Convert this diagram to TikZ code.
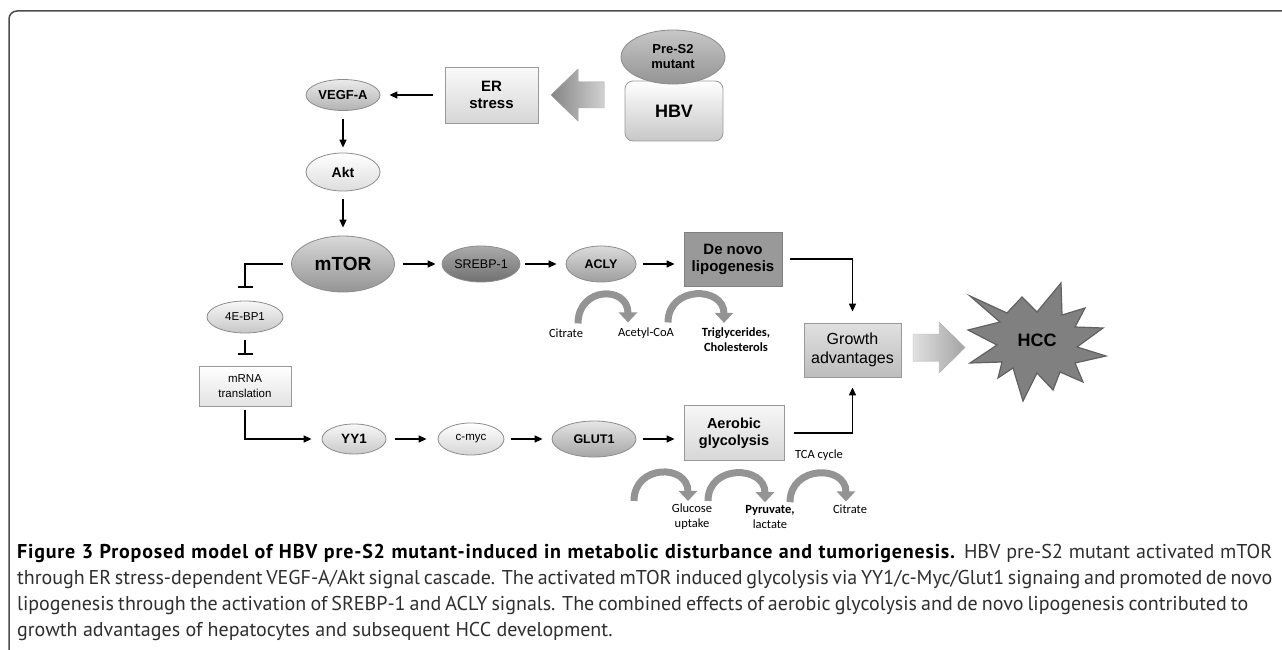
\documentclass[tikz,border=0pt]{standalone}
\usepackage{fontspec}
\setmainfont{Liberation Sans}
\newfontfamily\capfont{PT Sans}
\newfontfamily\metfont{Carlito}
\usetikzlibrary{shapes.geometric, arrows.meta, calc}

\tikzset{oval/.style = {shape = ellipse,
                        draw = black!45,
                        line width = 0.8pt,
                        inner sep = 0pt,
                        align = center,
                        font = \bfseries\fontsize{13}{15}\selectfont},
         sbox/.style = {shape = rectangle,
                        draw = black!40,
                        line width = 0.8pt,
                        inner sep = 0pt,
                        align = center,
                        font = \bfseries\fontsize{15}{17}\selectfont},
         arr/.style = {-{Triangle[length = 8pt, width = 7pt]},
                       line width = 1.4pt},
         inh/.style = {-{Bar[width = 15pt]},
                       line width = 1.2pt},
         met/.style = {font = \metfont\fontsize{12.5}{15}\selectfont,
                       align = center,
                       inner sep = 0pt},
         metarc/.style = {line width = 7pt,
                          draw = black!42,
                          -{Triangle[length = 10pt, width = 18pt]}}}

\begin{document}
\begin{tikzpicture}[x = 1pt, y = -1pt]
	\useasboundingbox (0,0) rectangle (1282,650);
	% frame
	\draw[line width = 1.5pt, black!70, rounded corners = 8pt] (9,650) -- (9,11) -- (1282,11);

	% HBV and ER stress
	\node[sbox, rounded corners = 8pt, minimum width = 98pt, minimum height = 60pt,
	      top color = white, bottom color = black!22,
	      font = \bfseries\fontsize{18}{20}\selectfont] (hbv) at (674,111) {HBV};
	\node[oval, minimum width = 104pt, minimum height = 54pt,
	      top color = black!22, bottom color = black!42] (pres2) at (673,57) {Pre-S2\\mutant};
	\fill[left color = black!48, right color = black!18, draw = black!30]
		(551,95) -- (578,69) -- (578,82) -- (604,82) -- (604,108) -- (578,108) -- (578,121) -- cycle;
	\node[sbox, minimum width = 93pt, minimum height = 56pt,
	      top color = black!2, bottom color = black!16] (er) at (491.5,95) {ER\\stress};

	% upstream cascade
	\node[oval, minimum width = 74pt, minimum height = 31pt,
	      top color = black!8, bottom color = black!30] (vegf) at (343,95) {VEGF-A};
	\node[oval, minimum width = 74pt, minimum height = 38pt,
	      top color = white, bottom color = black!13,
	      font = \bfseries\fontsize{14}{16}\selectfont] (akt) at (343,172) {Akt};
	\node[oval, minimum width = 103pt, minimum height = 56pt,
	      top color = black!15, bottom color = black!42,
	      font = \bfseries\fontsize{19}{21}\selectfont] (mtor) at (343,264) {mTOR};

	% lipogenesis branch
	\node[oval, minimum width = 78pt, minimum height = 36pt,
	      top color = black!33, bottom color = black!56,
	      font = \fontsize{12.5}{14}\selectfont] (srebp) at (481,264) {SREBP-1};
	\node[oval, minimum width = 70pt, minimum height = 36pt,
	      top color = black!14, bottom color = black!38,
	      font = \bfseries\fontsize{12.5}{14}\selectfont] (acly) at (601,264) {ACLY};
	\node[sbox, minimum width = 98pt, minimum height = 54pt,
	      fill = black!40, draw = black!50] (denovo) at (733,259) {De novo\\lipogenesis};

	% translation branch
	\node[oval, minimum width = 76pt, minimum height = 32pt,
	      top color = black!3, bottom color = black!22,
	      font = \fontsize{11.5}{13}\selectfont] (ebp) at (245,317) {4E-BP1};
	\node[sbox, minimum width = 92pt, minimum height = 40pt,
	      top color = white, bottom color = black!11,
	      font = \fontsize{11.5}{15}\selectfont] (mrna) at (245,386) {mRNA\\translation};
	\node[oval, minimum width = 64pt, minimum height = 30pt,
	      top color = black!3, bottom color = black!21,
	      font = \bfseries\fontsize{13.5}{15}\selectfont] (yy1) at (354,439) {YY1};
	\node[oval, minimum width = 66pt, minimum height = 32pt,
	      top color = white, bottom color = black!16,
	      font = \fontsize{11.5}{13}\selectfont] (cmyc) at (471,439) {c-myc};
	\node[oval, minimum width = 84pt, minimum height = 36pt,
	      top color = black!10, bottom color = black!35,
	      font = \bfseries\fontsize{12.5}{14}\selectfont] (glut) at (594,439) {GLUT1};
	\node[sbox, minimum width = 100pt, minimum height = 55pt,
	      top color = black!3, bottom color = black!16,
	      font = \bfseries\fontsize{14.5}{17}\selectfont] (aerobic) at (734,433) {Aerobic\\glycolysis};

	% outcome
	\node[sbox, minimum width = 97pt, minimum height = 54pt,
	      top color = black!12, bottom color = black!26,
	      font = \fontsize{16}{19}\selectfont] (growth) at (852.5,350) {Growth\\advantages};
	\fill[left color = black!12, right color = black!36, draw = black!25]
		(913,334) -- (939,334) -- (939,322) -- (965,347.5) -- (939,373) -- (939,361) -- (913,361) -- cycle;
	\filldraw[fill = black!50, draw = black!62, line width = 1.2pt]
		(970,296) -- (1007,313) -- (1022,297) -- (1037,312) -- (1061,283) -- (1062,315)
		-- (1085,308) -- (1075,327) -- (1103,328) -- (1077,347) -- (1106,356) -- (1075,363)
		-- (1083,382) -- (1060,372) -- (1053,390) -- (1037,373) -- (1023,401) -- (1013,368)
		-- (998,378) -- (1002,362) -- (970,363) -- (997,345) -- (968,330) -- (1000,322) -- cycle;
	\node[font = \bfseries\fontsize{18}{20}\selectfont] (hcc) at (1037,340) {HCC};

	% metabolites
	\node[met] (citA) at (566,333) {Citrate};
	\node[met] (acetyl) at (646,333) {Acetyl-CoA};
	\node[met, font = \metfont\bfseries\fontsize{12.5}{15}\selectfont] (trig) at (736,340) {Triglycerides,\\Cholesterols};
	\node[met] (tca) at (819,455) {TCA cycle};
	\node[met] (glucose) at (692,517) {Glucose\\uptake};
	\node[met] (pyruvate) at (770,517) {\textbf{Pyruvate,}\\lactate};
	\node[met] (citB) at (850,509) {Citrate};

	\draw[metarc] ($(citA.north)+(12,-5)$) .. controls +(0,-37) and +(0,-37) .. ($(acetyl.north)+(-18,-5)$);
	\draw[metarc] ($(acetyl.north)+(22,-5)$) .. controls +(0,-37) and +(0,-37) .. ($(trig.north)+(-12,-5)$);
	\draw[metarc] ($(glucose.north)+(-58,-3)$) .. controls +(0,-37) and +(0,-37) .. ($(glucose.north)+(-4,-3)$);
	\draw[metarc] ($(glucose.north)+(16,-3)$) .. controls +(0,-37) and +(0,-37) .. ($(pyruvate.north)+(-5,-3)$);
	\draw[metarc] ($(pyruvate.north)+(20,-3)$) .. controls +(0,-37) and +(0,-37) .. ($(citB.north)+(-4,-3)$);

	% connectors
	\draw[arr, shorten <= 12pt, shorten >= 9pt] (er.west) -- (vegf.east);
	\draw[arr, shorten <= 8pt, shorten >= 5pt] (vegf.south) -- (akt.north);
	\draw[arr, shorten <= 8pt, shorten >= 8pt] (akt.south) -- (mtor.north);
	\draw[arr, shorten <= 8pt, shorten >= 6pt] (mtor.east) -- (srebp.west);
	\draw[arr, shorten <= 5pt, shorten >= 9pt] (srebp.east) -- (acly.west);
	\draw[arr, shorten <= 7pt, shorten >= 9pt] (acly.east) -- (acly.east -| denovo.west);
	\draw[arr, shorten <= 8pt, shorten >= 11pt] (denovo.east) -| (growth.north);
	\draw[inh, shorten <= 8pt, shorten >= 13pt] (mtor.west) -| (ebp.north);
	\draw[inh, shorten <= 7pt, shorten >= 11pt] (ebp.south) -- (mrna.north);
	\draw[arr, shorten <= 4pt, shorten >= 10pt] (mrna.south) |- (yy1.west);
	\draw[arr, shorten <= 9pt, shorten >= 11pt] (yy1.east) -- (cmyc.west);
	\draw[arr, shorten <= 7pt, shorten >= 9pt] (cmyc.east) -- (glut.west);
	\draw[arr, shorten <= 7pt, shorten >= 9pt] (glut.east) -- (glut.east -| aerobic.west);
	\draw[arr, shorten <= 10pt, shorten >= 10pt] (aerobic.east) -| (growth.south);

	% caption
	\node[anchor = north west, inner sep = 0pt, align = left, text = black!82,
	      font = \capfont\fontsize{20}{26}\selectfont] (caption) at (17,544)
	{\makebox[1255pt][s]{\textbf{\addfontfeatures{LetterSpace = 4}\color{black}Figure 3 Proposed model of HBV pre-S2 mutant-induced in metabolic disturbance and tumorigenesis.} HBV pre-S2 mutant activated mTOR}\\
	 \makebox[1255pt][s]{through ER stress-dependent VEGF-A/Akt signal cascade. The activated mTOR induced glycolysis via YY1/c-Myc/Glut1 signaing and promoted de novo}\\
	 \makebox[1231pt][s]{lipogenesis through the activation of SREBP-1 and ACLY signals. The combined effects of aerobic glycolysis and de novo lipogenesis contributed to}\\
	 growth advantages of hepatocytes and subsequent HCC development.};
\end{tikzpicture}
\end{document}
